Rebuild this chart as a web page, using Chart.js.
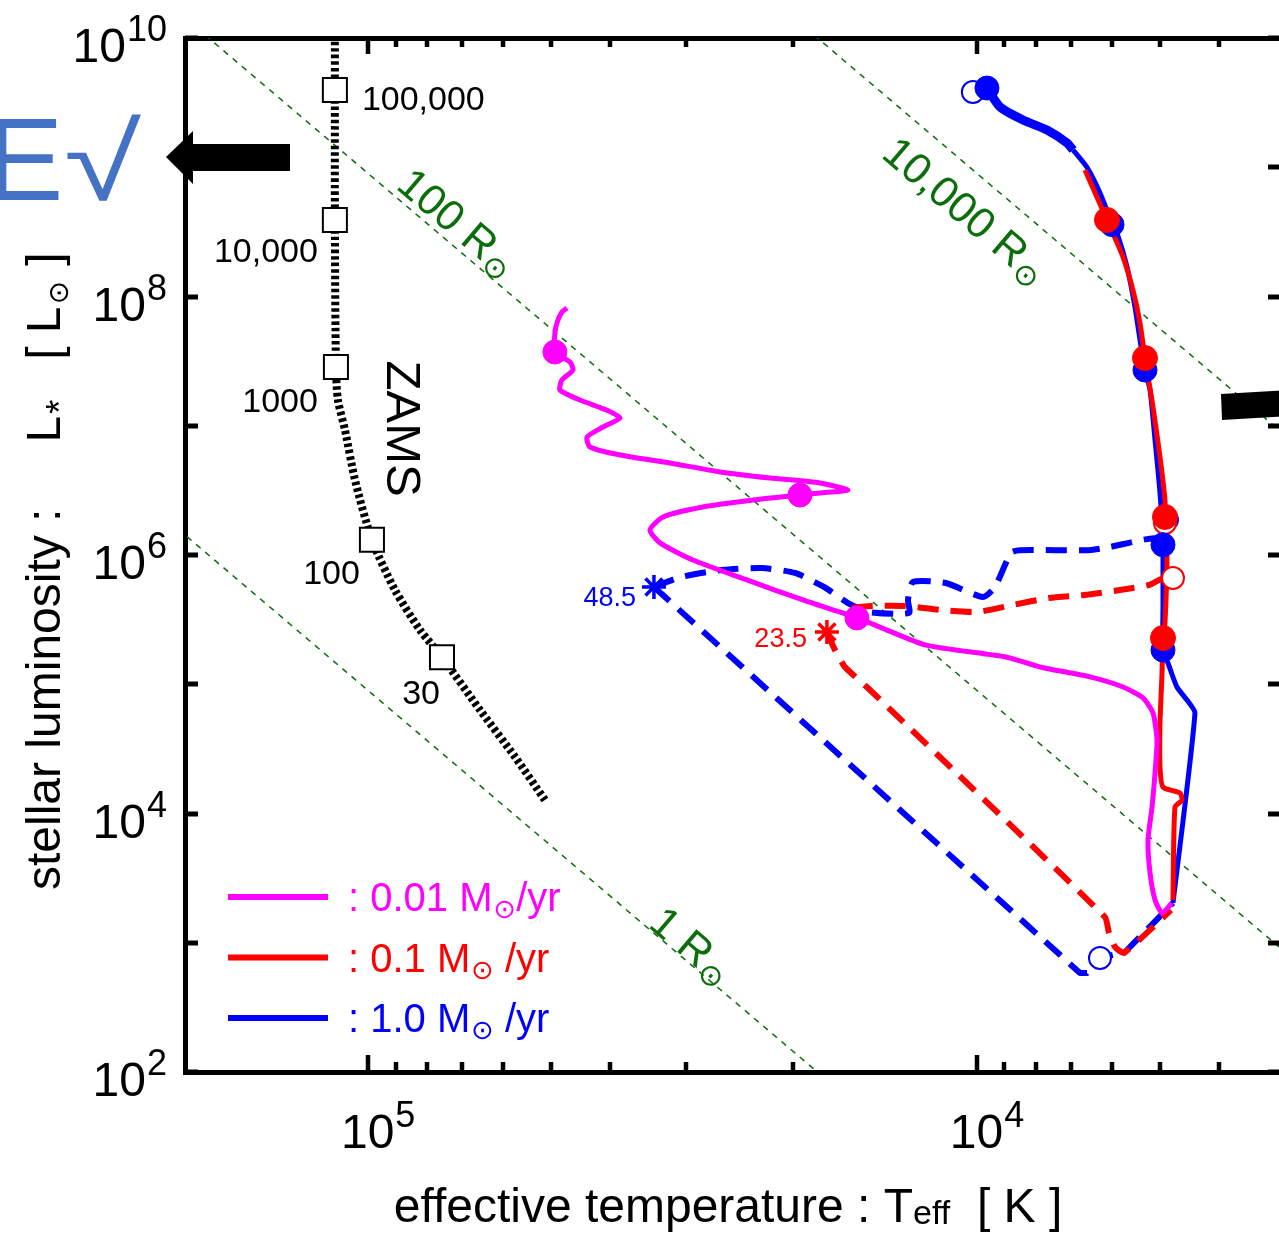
<!DOCTYPE html>
<html>
<head>
<meta charset="utf-8">
<title>Protostellar evolution in the HR diagram</title>
<script src="https://cdn.jsdelivr.net/npm/chart.js@4.4.1/dist/chart.umd.min.js"></script>
<style>
  html, body { margin:0; padding:0; background:#ffffff; overflow:hidden; }
  #wrap { position:relative; width:1300px; height:1234px; }
</style>
</head>
<body>
<div id="wrap"><canvas id="hr"></canvas></div>
<script>
// ---------------- axes ----------------
const xRange = [3162.3, 199526];          // effective temperature [K] (reversed axis)
const yRange = [1e2, 1e10];               // luminosity [Lsun]
const yTickValues  = [1e2,1e3,1e4,1e5,1e6,1e7,1e8,1e9,1e10];
const yLabelValues = [1e2,1e4,1e6,1e8,1e10];
const yLabelExps   = ['2','4','6','8','10'];
const xMajorTicks  = [1e4,1e5];
const xMinorTicks  = [4000,5000,6000,7000,8000,9000,20000,30000,40000,50000,60000,70000,80000,90000,200000];
const xLabelValues = [1e4,1e5];
const xLabelExps   = ['4','5'];

// ---------------- constant-radius lines ----------------
const r1T     = [300000, 10000];  const r1L     = [7.3e6, 9.0];
const r100T   = [300000, 3000];   const r100L   = [7.3e10, 730];
const r10000T = [30000, 3000];    const r10000L = [7.3e10, 7.3e6];

// ---------------- ZAMS ----------------
const zamsT = [113200,113200,113200,112750,111900,108950,104900,98400,90200,82050,75500,65390,57280,51150];
const zamsL = [1.05e10,3.96e9,3.91e8,2.85e7,1.58e7,9.27e6,3.80e6,1.31e6,5.36e5,2.63e5,1.62e5,6.32e4,2.74e4,1.27e4];
const zamsMarkT = [113200,113200,112750,98400,75500];
const zamsMarkL = [3.96e9,3.91e8,2.85e7,1.31e6,1.62e5];
const zamsMarkLabels = ['100,000','10,000','1000','100','30'];

// ---------------- 0.01 Msun/yr (magenta) ----------------
const magT = [4776,4959,5092,5189,5229,5150,5092,5054,5131,5329,5747,6511,7866,8913,12110,14410,15720,19280,23830,29230,33110,34390,32730,28150,23300,19500,18080,16260,18080,21840,26390,31880,38500,43140,43630,41070,38500,40450,44810,48330,47960,46000,46530,49260,49260,48880,47960,47060];
const magL = [2030,1699,2142,3465,6240,1.12e4,2.06e4,3.70e4,5.99e4,7.83e4,9.52e4,1.14e5,1.36e5,1.62e5,2.01e5,2.77e5,3.26e5,4.49e5,6.41e5,9.15e5,1.24e6,1.56e6,1.97e6,2.35e6,2.66e6,2.91e6,3.02e6,3.18e6,3.61e6,3.94e6,4.39e6,5.15e6,5.94e6,6.85e6,8.18e6,9.78e6,1.15e7,1.32e7,1.58e7,1.89e7,2.26e7,2.70e7,3.11e7,3.72e7,5.22e7,6.24e7,7.59e7,8.15e7];
const magDotT = [49260,19500,15720];
const magDotL = [3.72e7,2.91e6,3.26e5];

// ---------------- 0.1 Msun/yr (red) ----------------
const redT = [6636,6106,5747,5535,5390,5289,5131,4997,4904,4904,4867,4904,4941,4959,4997,4997,4941,4633,4598,4722,4758];
const redL = [9.52e8,3.91e8,2.02e8,1.12e8,6.24e7,3.34e7,1.40e7,5.73e6,2.66e6,1.97e6,9.65e5,2.98e5,2.28e5,1.22e5,5.01e4,2.29e4,1.60e4,1.44e4,1.27e4,1.12e4,2142];
const redDashAT = [17610,17150,16450,14960,6153,6060,5924,5725,4794];
const redDashAL = [2.54e5,1.91e5,1.36e5,9.03e4,1582,1190,927,833,1792];
const redDashBT = [16020,14960,13060,11440,9985,8713,7603,6661,5812,5210,5016,4904];
const redDashBL = [3.89e5,4.03e5,4.03e5,3.75e5,3.62e5,4.11e5,4.65e5,4.90e5,5.36e5,5.86e5,6.41e5,6.64e5];
const redDotT = [6106,5289,4904,4941];
const redDotL = [3.91e8,3.34e7,1.97e6,2.28e5];
const redOpenT = [4904,4758];
const redOpenL = [1.77e6,6.64e5];
const redStarT = [17610];
const redStarL = [2.54e5];
const redStarLabel = '23.5';

// ---------------- 1.0 Msun/yr (blue) ----------------
const blueT = [4758,4378,4512,4687,4849,4941,4941,4941,4941,4997,5092,5189,5289,5390,5493,5660,5879,5992,6270,6586,6943,7102,7661,8389,9152,9614];
const blueL = [2030,5.99e4,7.55e4,9.52e4,1.46e5,1.84e5,3.96e5,9.15e5,1.20e6,3.02e6,7.76e6,1.89e7,2.70e7,4.61e7,8.30e7,1.69e8,3.10e8,3.70e8,6.32e8,9.97e8,1.36e9,1.54e9,1.94e9,2.32e9,2.93e9,4.10e9];
const blueDashAT = [33870,6762,6586,6270,5703,4758];
const blueDashAL = [5.66e5,583,583,762,848,2030];
const blueDashBT = [33870,30580,26190,22520,19870,17810,16260,15020,12910,12960,12720,11230,9760,9327,8780,8486,6536,6060,5111,4941];
const blueDashBL = [5.66e5,6.76e5,7.66e5,7.93e5,7.26e5,5.66e5,4.25e5,3.62e5,3.56e5,4.49e5,6.18e5,6.07e5,4.73e5,5.66e5,1.04e6,1.09e6,1.09e6,1.15e6,1.35e6,1.20e6];
const blueDotT = [9614,5992,5289,4941,4941];
const blueDotL = [4.10e9,3.6e8,2.70e7,1.20e6,1.84e5];
const blueOpenT = [10140,4867,6270];
const blueOpenL = [3.82e9,1.87e6,762];
const blueStarT = [33870];
const blueStarL = [5.66e5];
const blueStarLabel = '48.5';

// ---------------- legend ----------------
const legendRates  = ['0.01','0.1','1.0'];
const legendColors = ['#ff00ff','#ff0000','#0000ff'];

// =====================================================
const MAG = '#ff00ff', RED = '#ff0000', BLUE = '#0000ff', GREEN = '#0b6e0b';
const FF = '"Liberation Sans", Arial, Helvetica, "DejaVu Sans", sans-serif';
const pts = (T, L) => T.map((t, i) => ({x: t, y: L[i]}));

function lineDS(label, T, L, color, width, dash, order, tension, extra) {
  return Object.assign({
    label, data: pts(T, L), showLine: true, borderColor: color, backgroundColor: color,
    borderWidth: width, borderDash: dash || [], pointRadius: 0, pointHoverRadius: 0,
    tension: tension || 0, order, borderCapStyle: 'butt', borderJoinStyle: 'round'
  }, extra || {});
}
function markDS(label, T, L, style, radius, fill, stroke, bw, order) {
  return {
    label, data: pts(T, L), showLine: false, pointStyle: style, pointRadius: radius,
    pointHoverRadius: radius, pointBackgroundColor: fill, pointBorderColor: stroke,
    pointBorderWidth: bw, order
  };
}

const datasets = [
  lineDS('1 Rsun', r1T, r1L, GREEN, 1.5, [6, 6], 30),
  lineDS('100 Rsun', r100T, r100L, GREEN, 1.5, [6, 6], 30),
  lineDS('10000 Rsun', r10000T, r10000L, GREEN, 1.5, [6, 6], 30),
  lineDS('ZAMS', zamsT, zamsL, '#000', 8, [3.5, 3], 29, 0.25),
  lineDS('1.0 dashed A', blueDashAT, blueDashAL, BLUE, 6, [21, 12], 25, 0),
  lineDS('1.0 dashed B', blueDashBT, blueDashBL, BLUE, 6, [21, 12], 25, 0.2),
  lineDS('1.0 Msun/yr', blueT, blueL, BLUE, 5, [], 24, 0.2,
         {segment: {borderWidth: c => (c.p0.parsed.y > 1.0e9 ? 9 : 5)}}),
  lineDS('0.1 dashed A', redDashAT, redDashAL, RED, 6, [21, 12], 23, 0.15),
  lineDS('0.1 dashed B', redDashBT, redDashBL, RED, 6, [21, 12], 23, 0.2),
  lineDS('0.1 Msun/yr', redT, redL, RED, 5, [], 22, 0.2),
  lineDS('0.01 Msun/yr', magT, magL, MAG, 5, [], 21, 0.2),
  markDS('1.0 open', blueOpenT, blueOpenL, 'circle', 11, '#fff', BLUE, 2, 15),
  markDS('0.1 open', redOpenT, redOpenL, 'circle', 11, '#fff', RED, 2, 14),
  markDS('1.0 dots', blueDotT, blueDotL, 'circle', 12, BLUE, BLUE, 1, 13),
  markDS('0.1 dots', redDotT, redDotL, 'circle', 12.5, RED, RED, 1, 12),
  markDS('0.01 dots', magDotT, magDotL, 'circle', 12, MAG, MAG, 1, 11),
  markDS('1.0 star', blueStarT, blueStarL, 'star', 12, BLUE, BLUE, 3.5, 10),
  markDS('0.1 star', redStarT, redStarL, 'star', 12, RED, RED, 3.5, 10),
  markDS('ZAMS marks', zamsMarkT, zamsMarkL, 'rect', 17, '#fff', '#000', 2, 9)
];

// ---------------- text helpers ----------------
function rich(ctx, parts, x, y, align) {
  let w = 0;
  parts.forEach(p => { ctx.font = p.s + 'px ' + FF; p.w = ctx.measureText(p.t).width; w += p.w + (p.gap || 0); });
  let cx = align === 'right' ? x - w : align === 'center' ? x - w / 2 : x;
  ctx.textAlign = 'left';
  parts.forEach(p => {
    cx += (p.gap || 0);
    ctx.font = p.s + 'px ' + FF;
    ctx.fillText(p.t, cx, y + (p.dy || 0));
    cx += p.w;
  });
}
function seg(ctx, x1, y1, x2, y2) { ctx.beginPath(); ctx.moveTo(x1, y1); ctx.lineTo(x2, y2); ctx.stroke(); }

const extras = {
  id: 'hrExtras',
  afterDatasetsDraw(chart) {
    const ctx = chart.ctx, xs = chart.scales.x, ys = chart.scales.y, ca = chart.chartArea;
    ctx.save();
    ctx.strokeStyle = '#000'; ctx.fillStyle = '#000'; ctx.lineCap = 'butt';
    // y tick marks (both sides, inward)
    ctx.lineWidth = 5;
    yTickValues.forEach(v => {
      const py = Math.round(ys.getPixelForValue(v));
      seg(ctx, ca.left, py, ca.left + 13, py);
      seg(ctx, ca.right - 13, py, ca.right, py);
    });
    // x tick marks (top & bottom, inward)
    ctx.lineWidth = 4.5;
    xMajorTicks.forEach(v => {
      const px = Math.round(xs.getPixelForValue(v));
      seg(ctx, px, ca.bottom, px, ca.bottom - 17);
      seg(ctx, px, ca.top, px, ca.top + 16);
    });
    xMinorTicks.forEach(v => {
      const px = Math.round(xs.getPixelForValue(v));
      if (px < ca.left + 2 || px > ca.right) return;
      seg(ctx, px, ca.bottom, px, ca.bottom - 10);
      seg(ctx, px, ca.top, px, ca.top + 9);
    });
    // tick labels
    ctx.textBaseline = 'alphabetic';
    yLabelValues.forEach((v, i) => {
      const py = ys.getPixelForValue(v);
      rich(ctx, [{t: '10', s: 48}, {t: yLabelExps[i], s: 36, dy: -21, gap: 1}], 167, py + 24, 'right');
    });
    xLabelValues.forEach((v, i) => {
      const px = xs.getPixelForValue(v);
      ctx.font = '48px ' + FF;
      const w = ctx.measureText('10').width;
      rich(ctx, [{t: '10', s: 48}, {t: xLabelExps[i], s: 36, dy: -21, gap: 1}], px - w / 2, ca.bottom + 76, 'left');
    });
    // axis titles
    rich(ctx, [{t: 'effective temperature : T', s: 48}, {t: 'eff', s: 34, dy: 2}, {t: '  [ K ]', s: 48}], 728, 1222, 'center');
    ctx.save();
    ctx.translate(60, 890); ctx.rotate(-Math.PI / 2);
    rich(ctx, [{t: 'stellar luminosity :', s: 48}, {t: 'L', s: 48, gap: 66}, {t: '*', s: 36, dy: 12, gap: 2},
               {t: '[ L', s: 48, gap: 40}, {t: '\u2299', s: 28, dy: 8, gap: 2}, {t: ' ]', s: 48, gap: 2}], 0, 0, 'left');
    ctx.restore();

    // ZAMS mass labels
    const zOff = [[27, 20, 'left'], [-17, 42, 'right'], [-18, 45, 'right'], [-12, 44, 'right'], [-2, 47, 'right']];
    zamsMarkLabels.forEach((lab, i) => {
      const px = xs.getPixelForValue(zamsMarkT[i]), py = ys.getPixelForValue(zamsMarkL[i]);
      rich(ctx, [{t: lab, s: 34}], px + zOff[i][0], py + zOff[i][1], zOff[i][2]);
    });
    // ZAMS title (rotated)
    ctx.save();
    ctx.translate(xs.getPixelForValue(86800), ys.getPixelForValue(9.5e6));
    ctx.rotate(Math.PI / 2);
    rich(ctx, [{t: 'ZAMS', s: 49}], 0, 18, 'center');
    ctx.restore();

    // radius labels along the green lines
    const a1 = {x: xs.getPixelForValue(r100T[0]), y: ys.getPixelForValue(r100L[0])};
    const a2 = {x: xs.getPixelForValue(r100T[1]), y: ys.getPixelForValue(r100L[1])};
    const ang = Math.atan2(a2.y - a1.y, a2.x - a1.x);
    ctx.fillStyle = GREEN;
    [[71000, 3.77e8, '100 R'], [10400, 4.67e8, '10,000 R'], [29300, 960, '1 R']].forEach(r => {
      ctx.save();
      ctx.translate(xs.getPixelForValue(r[0]), ys.getPixelForValue(r[1]));
      ctx.rotate(ang);
      rich(ctx, [{t: r[2], s: 43}, {t: '\u2299', s: 30, dy: 6, gap: 1}], 0, 15, 'center');
      ctx.restore();
    });

    // star labels
    ctx.fillStyle = BLUE;
    rich(ctx, [{t: blueStarLabel, s: 27}], xs.getPixelForValue(blueStarT[0]) - 18, ys.getPixelForValue(blueStarL[0]) + 19, 'right');
    ctx.fillStyle = RED;
    rich(ctx, [{t: redStarLabel, s: 27}], xs.getPixelForValue(redStarT[0]) - 20, ys.getPixelForValue(redStarL[0]) + 15, 'right');

    // legend
    legendRates.forEach((r, i) => {
      const y = 897 + i * 60.5;
      ctx.strokeStyle = legendColors[i]; ctx.fillStyle = legendColors[i]; ctx.lineWidth = 6;
      seg(ctx, 228, y, 328, y);
      const tail = i === 0 ? '/yr' : ' /yr';
      rich(ctx, [{t: ': ' + r + ' M', s: 40}, {t: '\u2299', s: 27, dy: 7, gap: 1}, {t: tail, s: 40}], 348, y + 14, 'left');
    });
    ctx.restore();
  },
  afterDraw(chart) {
    const ctx = chart.ctx;
    ctx.save();
    // blue "E√" mark
    ctx.fillStyle = '#4472c4';
    ctx.textAlign = 'left'; ctx.textBaseline = 'alphabetic';
    ctx.font = '116px ' + FF;
    ctx.fillText('E', -14, 200);
    ctx.save();
    ctx.translate(64, 200); ctx.scale(1.3, 1);
    ctx.font = '108px ' + FF;
    ctx.fillText('\u221A', 0, 0);
    ctx.restore();
    // black arrow pointing left
    ctx.fillStyle = '#000';
    ctx.beginPath();
    ctx.moveTo(166, 157); ctx.lineTo(193, 131); ctx.lineTo(193, 144); ctx.lineTo(290, 144);
    ctx.lineTo(290, 171); ctx.lineTo(193, 171); ctx.lineTo(193, 184); ctx.closePath(); ctx.fill();
    // black bar at right edge
    ctx.beginPath();
    ctx.moveTo(1221, 394); ctx.lineTo(1290, 390); ctx.lineTo(1290, 416); ctx.lineTo(1222, 420);
    ctx.closePath(); ctx.fill();
    ctx.restore();
  }
};

const axisBase = (pos, range, reverse) => ({
  type: 'logarithmic', position: pos, min: range[0], max: range[1], reverse: !!reverse,
  ticks: {display: false},
  grid: {display: true, drawOnChartArea: false, drawTicks: false},
  border: {display: true, width: 5, color: '#000'}
});

new Chart(document.getElementById('hr'), {
  type: 'scatter',
  data: {datasets},
  options: {
    responsive: true, maintainAspectRatio: false, animation: false, devicePixelRatio: 1,
    layout: {padding: {left: 185, right: 17, top: 38, bottom: 162}},
    plugins: {legend: {display: false}, tooltip: {enabled: false}},
    events: [],
    scales: {
      x: axisBase('bottom', xRange, true),
      xt: axisBase('top', xRange, true),
      y: axisBase('left', yRange, false),
      yr: axisBase('right', yRange, false)
    }
  },
  plugins: [extras]
});
</script>
</body>
</html>
